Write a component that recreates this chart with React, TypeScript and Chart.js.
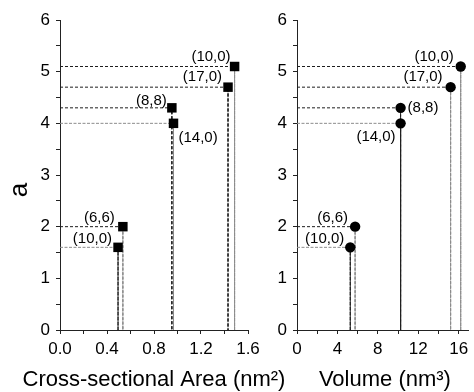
import React, { useEffect, useRef } from 'react';
import { Chart, registerables } from 'chart.js';

Chart.register(...registerables);

// ---- data ----
const pointLabels = ['(10,0)', '(6,6)', '(8,8)', '(14,0)', '(17,0)', '(10,0)'];
const aValues = [1.6, 2.0, 4.3, 4.0, 4.7, 5.1];
const areaValues = [0.494, 0.535, 0.952, 0.966, 1.43, 1.486];
const volumeValues = [5.27, 5.75, 10.25, 10.25, 15.2, 16.2];

const aTickLabels = ['0', '1', '2', '3', '4', '5', '6'];
const areaTickLabels = ['0.0', '0.4', '0.8', '1.2', '1.6'];
const volumeTickLabels = ['0', '4', '8', '12', '16'];

const areaTitle = 'Cross-sectional Area (nm²)';
const volumeTitle = 'Volume (nm³)';
const yTitle = 'a';

// ---- styles ----
const FONT = '"Liberation Sans", Arial, Helvetica, sans-serif';
const DARK = '#1e1e1e';
const LIGHT = '#8c8c8c';
const DASH_DARK = [3, 2];
const DASH_LIGHT = [3, 1.5];

// [horizontal, vertical] style per point: 'd' dark dashed, 'l' light dashed, 's' solid
const leftLineStyles = [['l', 'd'], ['d', 'l'], ['d', 'd'], ['l', 'l'], ['d', 'd'], ['d', 'l']];
const rightLineStyles = [['l', 'd'], ['d', 'l'], ['d', 'd'], ['l', 's'], ['d', 'l'], ['d', 'l']];

// label offsets [dx, dy, align]
const leftLabelOffsets: [number, number, CanvasTextAlign][] = [
  [-6, -8, 'right'], [-8, -9, 'right'], [-5, -7, 'right'], [5, 15, 'left'], [-6, -10, 'right'], [-4, -10, 'right'],
];
const rightLabelOffsets: [number, number, CanvasTextAlign][] = [
  [-6, -8, 'right'], [-7, -9, 'right'], [7, 0, 'left'], [-5, 14, 'right'], [-8, -10, 'right'], [-7, -10, 'right'],
];

function styleColor(s: string) {
  return s === 'l' ? LIGHT : s === 's' ? '#333' : DARK;
}
function styleDash(s: string) {
  return s === 'l' ? DASH_LIGHT : s === 's' ? [] : DASH_DARK;
}

function buildConfig(side: 'left' | 'right'): any {
  const isLeft = side === 'left';
  const xs = isLeft ? areaValues : volumeValues;
  const lineStyles = isLeft ? leftLineStyles : rightLineStyles;
  const offsets = isLeft ? leftLabelOffsets : rightLabelOffsets;
  const xTickLabels = isLeft ? areaTickLabels : volumeTickLabels;

  const lineSets = xs.map((xv, i) => {
    const [h, v] = lineStyles[i];
    return {
      data: [
        { x: 0, y: aValues[i] },
        { x: xv, y: aValues[i] },
        { x: xv, y: 0 },
      ],
      showLine: true,
      pointRadius: 0,
      borderWidth: 1,
      borderColor: styleColor(h),
      order: 1,
      segment: {
        borderColor: (ctx: any) => styleColor(ctx.p0DataIndex === 0 ? h : v),
        borderDash: (ctx: any) => styleDash(ctx.p0DataIndex === 0 ? h : v),
      },
    };
  });

  const pointSet = {
    data: xs.map((xv, i) => ({ x: xv, y: aValues[i] })),
    showLine: false,
    pointStyle: isLeft ? 'rect' : 'circle',
    pointRadius: isLeft ? 6.7 : 5.2,
    backgroundColor: '#000',
    borderColor: '#000',
    borderWidth: 0,
    order: 0,
  };

  const labelPlugin = {
    id: 'pointLabels' + side,
    afterDatasetsDraw(chart: any) {
      const ctx = chart.ctx;
      const xS = chart.scales.x;
      const yS = chart.scales.y;
      const area = chart.chartArea;
      ctx.save();
      ctx.font = `15px ${FONT}`;
      ctx.fillStyle = '#000';
      ctx.textBaseline = 'middle';
      xs.forEach((xv, i) => {
        const [dx, dy, align] = offsets[i];
        ctx.textAlign = align;
        ctx.fillText(pointLabels[i], xS.getPixelForValue(xv) + dx, yS.getPixelForValue(aValues[i]) + dy);
      });
      // x axis title
      ctx.font = `22px ${FONT}`;
      ctx.textAlign = 'center';
      ctx.textBaseline = 'alphabetic';
      ctx.fillText(isLeft ? areaTitle : volumeTitle, (area.left + area.right) / 2 + (isLeft ? 0 : 2), 386);
      if (isLeft) {
        ctx.translate(20, 190);
        ctx.rotate(-Math.PI / 2);
        ctx.font = `26px ${FONT}`;
        ctx.textAlign = 'center';
        ctx.textBaseline = 'middle';
        ctx.fillText(yTitle, 0, 0);
      }
      ctx.restore();
    },
  };

  const xStep = isLeft ? 0.2 : 2;
  const xMajor = isLeft ? 0.4 : 4;

  return {
    type: 'scatter',
    data: { datasets: [...lineSets, pointSet] },
    plugins: [labelPlugin],
    options: {
      responsive: false,
      animation: false,
      devicePixelRatio: 1,
      layout: {
        padding: isLeft
          ? { left: 0, right: 226, top: 20, bottom: 0 }
          : { left: 257, right: 1, top: 20, bottom: 0 },
      },
      plugins: { legend: { display: false }, tooltip: { enabled: false } },
      scales: {
        x: {
          type: 'linear',
          position: 'bottom',
          min: 0,
          max: isLeft ? 1.6 : 17,
          afterFit: (s: any) => { s.height = 62; },
          ticks: {
            stepSize: xStep,
            includeBounds: false,
            autoSkip: false,
            maxRotation: 0,
            padding: 5,
            color: '#000',
            font: { family: FONT, size: 17 },
            callback: (v: number) => {
              const k = Math.round(v / xMajor * 1000) / 1000;
              return Number.isInteger(k) ? xTickLabels[k] ?? '' : '';
            },
          },
          grid: { drawOnChartArea: false, drawTicks: true, tickLength: 4, color: '#222' },
          border: { display: true, color: '#222', width: 1 },
          title: { display: false },
        },
        y: {
          type: 'linear',
          min: 0,
          max: 6,
          afterFit: (s: any) => { s.width = isLeft ? 60 : 40; },
          ticks: {
            stepSize: 0.5,
            autoSkip: false,
            padding: 6,
            color: '#000',
            font: { family: FONT, size: 17 },
            callback: (v: number) => (Number.isInteger(v) ? aTickLabels[v] ?? '' : ''),
          },
          grid: { drawOnChartArea: false, drawTicks: true, tickLength: 4, color: '#222' },
          border: { display: true, color: '#222', width: 1 },
        },
      },
    },
  };
}

export default function App() {
  const leftRef = useRef<HTMLCanvasElement>(null);
  const rightRef = useRef<HTMLCanvasElement>(null);
  useEffect(() => {
    const c1 = new Chart(leftRef.current as HTMLCanvasElement, buildConfig('left'));
    const c2 = new Chart(rightRef.current as HTMLCanvasElement, buildConfig('right'));
    return () => {
      c1.destroy();
      c2.destroy();
    };
  }, []);
  return (
    <div style={{ position: 'fixed', left: 0, top: 0, width: 474, height: 392, background: '#fff' }}>
      <canvas ref={leftRef} width={474} height={392} style={{ position: 'absolute', left: 0, top: 0 }} />
      <canvas ref={rightRef} width={474} height={392} style={{ position: 'absolute', left: 0, top: 0 }} />
    </div>
  );
}
